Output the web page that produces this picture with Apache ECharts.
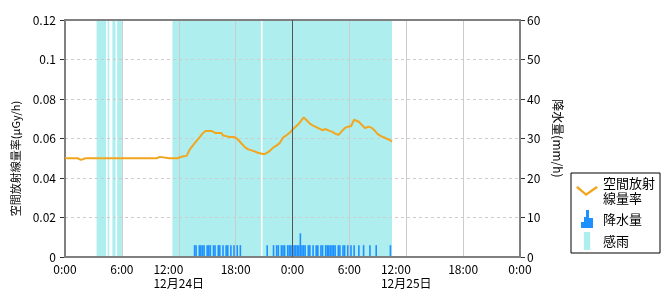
<!DOCTYPE html>
<html>
<head>
<meta charset="utf-8">
<script src="https://cdn.jsdelivr.net/npm/echarts@6/dist/echarts.min.js"></script>
<style>html,body{margin:0;padding:0;background:#fff;}#c{width:670px;height:300px;}</style>
</head>
<body>
<div id="c"></div>
<script>
// ---- data (hours from 12/24 0:00) ----
var xTickLabels = ['0:00','6:00','12:00','18:00','0:00','6:00','12:00','18:00','0:00'];
var xDateLabels = {12: '12月24日', 36: '12月25日'};
var leftTickLabels = ['0','0.02','0.04','0.06','0.08','0.1','0.12'];
var rightTickLabels = ['0','10','20','30','40','50','60'];

var doseHours = [0,0.5,1.0,1.33,1.5,1.67,1.83,2.17,2.33,2.5,2.67,2.83,3.0,3.17,3.33,3.5,3.67,3.83,4.0,4.17,4.33,4.5,4.67,4.83,5.0,5.17,5.33,5.5,6,7,8,9,9.33,9.5,9.67,10.0,10.17,11.0,11.5,11.67,11.83,12.0,12.5,12.83,13.17,13.5,13.83,14.17,14.5,14.83,15.17,15.33,15.5,15.83,16.17,16.5,16.67,17.0,17.33,17.67,18.0,18.33,18.67,19.0,19.33,19.67,20.0,20.33,20.67,21.0,21.33,21.67,22.0,22.33,22.67,23.0,23.33,23.67,24.0,24.33,24.67,25.0,25.17,25.5,25.83,26.17,26.5,26.83,27.17,27.5,27.83,28.17,28.5,28.83,29.17,29.5,29.83,30.17,30.5,30.67,31.0,31.33,31.67,32.0,32.33,32.67,33.0,33.33,33.67,34.0,34.33,34.5];
var doseValues = [0.050,0.050,0.050,0.050,0.0492,0.0492,0.050,0.050,0.0492,0.050,0.0492,0.050,0.0492,0.050,0.0492,0.050,0.0492,0.050,0.0492,0.050,0.0492,0.050,0.0492,0.050,0.0492,0.050,0.0492,0.050,0.050,0.050,0.050,0.050,0.050,0.0507,0.050,0.0507,0.050,0.050,0.050,0.0508,0.050,0.0508,0.051,0.0512,0.0545,0.0565,0.0585,0.0605,0.0625,0.0638,0.0638,0.0645,0.0638,0.0628,0.0628,0.0628,0.0615,0.0612,0.0608,0.0608,0.0605,0.059,0.0572,0.0555,0.0545,0.054,0.0535,0.0528,0.0524,0.052,0.0528,0.054,0.0555,0.0565,0.0578,0.0605,0.0615,0.0628,0.0645,0.066,0.0675,0.0695,0.0707,0.0692,0.0675,0.0665,0.0658,0.065,0.0642,0.0648,0.064,0.0635,0.0625,0.0618,0.0635,0.0652,0.066,0.0662,0.0695,0.070,0.0685,0.0668,0.0652,0.066,0.0655,0.064,0.0622,0.0612,0.0605,0.0598,0.059,0.0584];

var rainHours = [13.67,13.83,14.17,14.33,14.5,14.67,15.0,15.17,15.33,15.67,15.83,16.17,16.33,16.67,17.0,17.17,17.5,17.83,18.17,18.5,
  21.33,22.0,22.33,22.5,22.83,23.0,23.17,23.5,23.67,23.83,24.0,24.17,24.33,24.5,24.67,24.83,25.0,25.17,25.33,25.67,25.83,26.17,26.5,26.67,27.0,27.17,27.5,27.67,27.83,28.0,28.17,28.33,28.5,28.83,29.0,29.33,29.5,29.83,30.17,30.5,31.0,31.5,32.17,32.83,34.33];
var rainValues = [3,3,3,3,3,3,3,3,3,3,3,3,3,3,3,3,3,3,3,3,
  3,3,3,3,3,3,3,3,3,3,3,3,3,3,3,6,3,3,3,3,3,3,3,3,3,3,3,3,3,3,3,3,3,3,3,3,3,3,3,3,3,3,3,3,3];

var senseStart = [3.33,4.5,5.0,5.5,11.33,20.83];
var senseEnd   = [4.33,4.67,5.33,6.0,20.67,34.5];

// ---- chart ----
var FONT = '"Noto Sans CJK JP", sans-serif';
var chart = echarts.init(document.getElementById('c'), null, {renderer: 'canvas'});
var doseData = doseHours.map(function (h, i) { return [h, doseValues[i]]; });
var rainData = rainHours.map(function (h, i) { return [h, rainValues[i]]; });
var senseData = senseStart.map(function (s, i) { return [s, senseEnd[i]]; });

chart.setOption({
  animation: false,
  textStyle: {fontFamily: FONT, color: '#000'},
  grid: {left: 65, right: 150, top: 20, bottom: 43, show: true, borderColor: '#808080', borderWidth: 2, z: 3},
  legend: {
    orient: 'vertical', left: 571, top: 173,
    borderColor: '#000', borderWidth: 1, padding: [3, 5, 3, 5],
    itemWidth: 22, itemHeight: 18, itemGap: 4,
    textStyle: {fontFamily: FONT, fontSize: 13, color: '#000', lineHeight: 15},
    selectedMode: false,
    data: [
      {name: '空間放射\n線量率', icon: 'path://M0,2 L2,0 L11,8 L22,0 L24,2 L11,11 Z', itemStyle: {color: '#f2a61f'}},
      {name: '降水量', icon: 'path://M0,18 L0,12 L3,12 L3,7 L5,7 L5,0 L8,0 L8,8 L12,8 L12,18 Z', itemStyle: {color: '#1e90ff'}},
      {name: '感雨', icon: 'path://M0,0 L6,0 L6,17 L0,17 Z', itemStyle: {color: '#afeeee'}}
    ]
  },
  xAxis: {
    type: 'value', min: 0, max: 48, interval: 6, z: 1,
    axisLine: {show: true, onZero: false, lineStyle: {color: '#000', width: 2}},
    axisTick: {show: false},
    splitLine: {show: true, lineStyle: {color: '#ccc', width: 1, type: 'solid'}},
    axisLabel: {
      margin: 5, fontSize: 12, color: '#000', fontFamily: FONT,
      formatter: function (v) {
        var idx = Math.round(v / 6);
        var t = xTickLabels[idx];
        if (xDateLabels[v]) return '{t|' + t + '}\n{d|' + xDateLabels[v] + '}';
        return '{t|' + t + '}';
      },
      rich: {
        t: {fontSize: 12, fontFamily: FONT, color: '#000', align: 'left', lineHeight: 14},
        d: {fontSize: 12, fontFamily: FONT, color: '#000', lineHeight: 14}
      }
    }
  },
  yAxis: [
    {
      type: 'value', min: 0, max: 0.12, interval: 0.02, z: 1, position: 'left',
      name: '空間放射線量率(μGy/h)', nameLocation: 'middle', nameGap: 41, nameRotate: 90,
      nameTextStyle: {fontSize: 11, fontFamily: FONT, color: '#000', padding: [0, 40, 0, 0]},
      axisLine: {show: true, lineStyle: {color: '#333', width: 2}},
      axisTick: {show: true, length: 5, lineStyle: {color: '#333'}},
      axisLabel: {margin: 9, fontSize: 12, color: '#000', fontFamily: FONT,
        formatter: function (v, i) { return leftTickLabels[Math.round(v / 0.02)]; }},
      splitLine: {show: true, lineStyle: {color: '#ccc', type: [3, 3], width: 1}}
    },
    {
      type: 'value', min: 0, max: 60, interval: 10, z: 1, position: 'right',
      name: '降水量(mm/h)', nameLocation: 'middle', nameGap: 20, nameRotate: -90,
      nameTextStyle: {fontSize: 12, fontFamily: FONT, color: '#000'},
      axisLine: {show: true, lineStyle: {color: '#333', width: 2}},
      axisTick: {show: true, length: 5, lineStyle: {color: '#333'}},
      axisLabel: {margin: 7, fontSize: 12, color: '#000', fontFamily: FONT,
        formatter: function (v) { return rightTickLabels[Math.round(v / 10)]; }},
      splitLine: {show: false}
    }
  ],
  series: [
    {
      name: '感雨', type: 'custom', z: 0, yAxisIndex: 0,
      itemStyle: {color: '#afeeee'},
      renderItem: function (params, api) {
        var p0 = api.coord([api.value(0), 0.12]);
        var p1 = api.coord([api.value(1), 0]);
        return {type: 'rect', shape: {x: p0[0], y: p0[1], width: p1[0] - p0[0], height: p1[1] - p0[1]},
          style: {fill: '#afeeee'}};
      },
      encode: {x: [0, 1], y: []},
      data: senseData,
      silent: true
    },
    {
      name: '降水量', type: 'bar', yAxisIndex: 1, z: 2, barWidth: 1.6,
      itemStyle: {color: '#1e90ff'},
      data: rainData,
      silent: true,
      markLine: {
        silent: true, symbol: ['none', 'none'], label: {show: false},
        lineStyle: {color: '#555', width: 1, type: 'solid'},
        data: [{xAxis: 24}]
      }
    },
    {
      name: '空間放射\n線量率', type: 'line', yAxisIndex: 0, z: 3,
      showSymbol: false, symbol: 'none',
      lineStyle: {color: '#f2a61f', width: 2},
      itemStyle: {color: '#f2a61f'},
      data: doseData,
      silent: true
    }
  ]
});
</script>
</body>
</html>
